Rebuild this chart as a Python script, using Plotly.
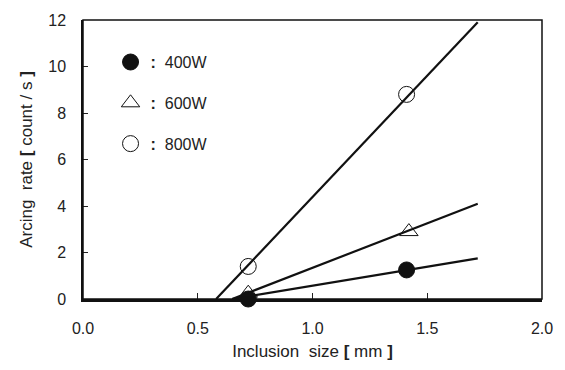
import plotly.graph_objects as go

series = ["400W", "600W", "800W"]
symbols = ["circle", "triangle-up-open", "circle-open"]
x_pts = [[0.72, 1.41], [0.72, 1.42], [0.72, 1.41]]
y_pts = [[0.0, 1.25], [0.25, 2.9], [1.4, 8.8]]
# fitted lines: (x at y=0, end x, end y)
fit_x0 = [0.65, 0.65, 0.58]
fit_x1 = [1.72, 1.72, 1.72]
fit_y1 = [1.75, 4.1, 11.9]

x_ticks = [0.0, 0.5, 1.0, 1.5, 2.0]
x_ticklabels = ["0.0", "0.5", "1.0", "1.5", "2.0"]
y_ticks = [0, 2, 4, 6, 8, 10, 12]

FONT = "Liberation Sans"
SP = "\u00a0"

fig = go.Figure()
for i, name in enumerate(series):
    fig.add_trace(go.Scatter(
        x=[fit_x0[i], fit_x1[i]], y=[0, fit_y1[i]], mode="lines",
        line=dict(color="#111111", width=2.2), showlegend=False,
        cliponaxis=False, hoverinfo="skip"))
for i, name in enumerate(series):
    fig.add_trace(go.Scatter(
        x=x_pts[i], y=y_pts[i], mode="markers",
        name="<b>:</b>  " + name, legendgroup=name,
        marker=dict(symbol=symbols[i], size=16, color="#111111",
                    line=dict(color="#111111", width=1)),
        cliponaxis=False))

xtitle = "Inclusion" + SP * 2 + "size" + SP + "<b>[</b>" + SP + "mm" + SP + "<b>]</b>"
ytitle = "Arcing" + SP * 2 + "rate" + SP + "<b>[</b>" + SP + "count" + SP + "/" + SP + "s" + SP + "<b>]</b>"

fig.update_layout(
    width=565, height=370,
    margin=dict(l=83, r=16, t=19, b=69),
    paper_bgcolor="white", plot_bgcolor="white",
    font=dict(family=FONT, size=16, color="#222222"),
    showlegend=True,
    legend=dict(x=0.06, y=0.91, xanchor="left", yanchor="top",
                bgcolor="rgba(0,0,0,0)", traceorder="grouped",
                tracegroupgap=17, font=dict(family=FONT, size=16), itemwidth=30),
    xaxis=dict(range=[0, 2], tickvals=x_ticks, ticktext=x_ticklabels,
               ticks="inside", ticklen=6, tickcolor="#222222", tickwidth=1,
               showline=True, linecolor="#111111", linewidth=3, mirror=False,
               showgrid=False, zeroline=False, ticklabelstandoff=13,
               tickfont=dict(family=FONT, size=16),
               title=dict(text=xtitle, standoff=9,
                          font=dict(family=FONT, size=17, color="#222222"))),
    yaxis=dict(range=[0, 12], tickvals=y_ticks,
               ticks="inside", ticklen=5, tickcolor="#222222", tickwidth=1,
               showline=True, linecolor="#111111", linewidth=1.5, mirror=False,
               showgrid=False, zeroline=False, ticklabelstandoff=12,
               tickfont=dict(family=FONT, size=16),
               title=dict(text=ytitle, standoff=11,
                          font=dict(family=FONT, size=17, color="#222222"))),
    shapes=[dict(type="rect", xref="paper", yref="paper", x0=0, y0=0, x1=1, y1=1,
                 line=dict(color="#111111", width=1.5), layer="above")],
)

fig.write_html("out.html")
